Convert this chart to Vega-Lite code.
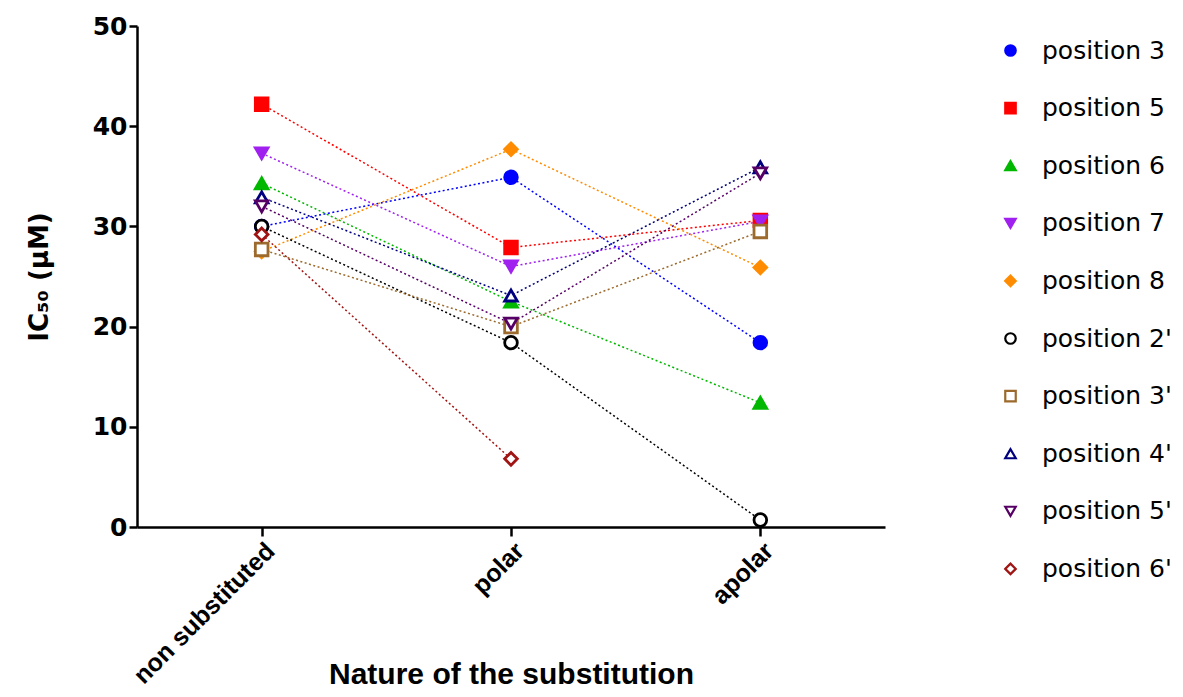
{
  "$schema": "https://vega.github.io/schema/vega-lite/v6.json",
  "autosize": "none",
  "width": 748,
  "height": 501,
  "padding": {"left": 137, "top": 26, "right": 298, "bottom": 170},
  "background": "white",
  "data": {"values": [
    {"series": "position 3", "cat": "non substituted", "value": 30.0},
    {"series": "position 3", "cat": "polar", "value": 34.9},
    {"series": "position 3", "cat": "apolar", "value": 18.4},
    {"series": "position 5", "cat": "non substituted", "value": 42.2},
    {"series": "position 5", "cat": "polar", "value": 27.9},
    {"series": "position 5", "cat": "apolar", "value": 30.6},
    {"series": "position 6", "cat": "non substituted", "value": 34.3},
    {"series": "position 6", "cat": "polar", "value": 22.5},
    {"series": "position 6", "cat": "apolar", "value": 12.4},
    {"series": "position 7", "cat": "non substituted", "value": 37.3},
    {"series": "position 7", "cat": "polar", "value": 26.0},
    {"series": "position 7", "cat": "apolar", "value": 30.5},
    {"series": "position 8", "cat": "non substituted", "value": 27.5},
    {"series": "position 8", "cat": "polar", "value": 37.7},
    {"series": "position 8", "cat": "apolar", "value": 25.9},
    {"series": "position 2'", "cat": "non substituted", "value": 30.0},
    {"series": "position 2'", "cat": "polar", "value": 18.4},
    {"series": "position 2'", "cat": "apolar", "value": 0.7},
    {"series": "position 3'", "cat": "non substituted", "value": 27.7},
    {"series": "position 3'", "cat": "polar", "value": 20.0},
    {"series": "position 3'", "cat": "apolar", "value": 29.5},
    {"series": "position 4'", "cat": "non substituted", "value": 32.9},
    {"series": "position 4'", "cat": "polar", "value": 23.1},
    {"series": "position 4'", "cat": "apolar", "value": 35.9},
    {"series": "position 5'", "cat": "non substituted", "value": 32.0},
    {"series": "position 5'", "cat": "polar", "value": 20.3},
    {"series": "position 5'", "cat": "apolar", "value": 35.3},
    {"series": "position 6'", "cat": "non substituted", "value": 29.2},
    {"series": "position 6'", "cat": "polar", "value": 6.8}
  ]},
  "encoding": {
    "x": {
      "field": "cat", "type": "nominal",
      "scale": {"type": "point", "domain": ["non substituted", "polar", "apolar"], "padding": 0.5},
      "axis": {
        "title": "Nature of the substitution",
        "titleFont": "Liberation Sans", "titleFontSize": 30, "titleFontWeight": "bold", "titleColor": "black",
        "titleBaseline": "alphabetic", "titleY": 156,
        "labelAngle": -45, "labelFont": "Liberation Sans", "labelFontSize": 25, "labelFontWeight": "bold", "labelColor": "black",
        "labelPadding": 2, "labelLimit": 0,
        "domainColor": "black", "domainWidth": 2.5, "tickColor": "black", "tickWidth": 2.5, "tickSize": 9,
        "grid": false
      }
    },
    "y": {
      "field": "value", "type": "quantitative",
      "scale": {"domain": [0, 50], "nice": false, "zero": true},
      "axis": {
        "title": "IC₅₀ (μM)",
        "titleFont": "DejaVu Sans", "titleFontSize": 26, "titleFontWeight": "bold", "titleColor": "black",
        "titlePadding": 40,
        "values": [0, 10, 20, 30, 40, 50],
        "labelFont": "DejaVu Sans", "labelFontSize": 25, "labelFontWeight": "bold", "labelColor": "black",
        "labelPadding": 2,
        "domainColor": "black", "domainWidth": 2.5, "tickColor": "black", "tickWidth": 2.5, "tickSize": 8,
        "grid": false
      }
    }
  },
  "layer": [
    {
      "mark": {"type": "line", "strokeDash": [2, 2.5], "strokeWidth": 1.5},
      "encoding": {
        "detail": {"field": "series"},
        "stroke": {
          "field": "series", "type": "nominal",
          "scale": {
            "domain": ["position 3", "position 5", "position 6", "position 7", "position 8", "position 2'", "position 3'", "position 4'", "position 5'", "position 6'"],
            "range": ["#0000FF", "#FF0000", "#00B800", "#A020F0", "#FF8C00", "#000000", "#9C6A2C", "#00007F", "#560066", "#A01414"]
          }
        }
      }
    },
    {
      "mark": {"type": "point", "size": 160, "strokeWidth": 2.8, "opacity": 1},
      "encoding": {
        "stroke": {"field": "series", "type": "nominal"},
        "fill": {
          "field": "series", "type": "nominal",
          "scale": {
            "domain": ["position 3", "position 5", "position 6", "position 7", "position 8", "position 2'", "position 3'", "position 4'", "position 5'", "position 6'"],
            "range": ["#0000FF", "#FF0000", "#00B800", "#A020F0", "#FF8C00", "#FFFFFF", "#FFFFFF", "#FFFFFF", "#FFFFFF", "#FFFFFF"]
          }
        },
        "shape": {
          "field": "series", "type": "nominal",
          "scale": {
            "domain": ["position 3", "position 5", "position 6", "position 7", "position 8", "position 2'", "position 3'", "position 4'", "position 5'", "position 6'"],
            "range": ["circle", "square", "triangle-up", "triangle-down", "diamond", "circle", "square", "triangle-up", "triangle-down", "diamond"]
          }
        }
      }
    }
  ],
  "config": {
    "view": {"stroke": null},
    "legend": {
      "title": null, "orient": "none", "legendX": 861, "legendY": 12,
      "labelFont": "DejaVu Sans", "labelFontSize": 25, "labelColor": "black", "labelOffset": 19,
      "symbolSize": 110, "symbolStrokeWidth": 2.2, "rowPadding": 31.6, "padding": 0
    }
  }
}
